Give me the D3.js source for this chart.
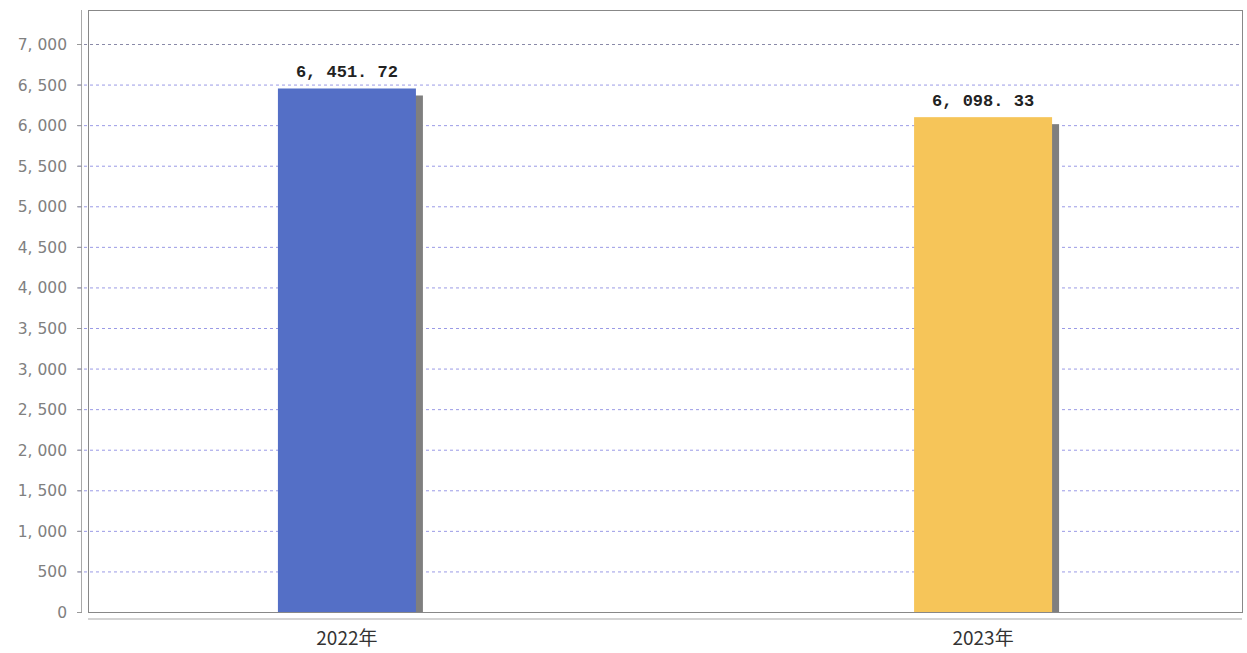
<!DOCTYPE html>
<meta charset="utf-8">
<title>Bar Chart</title>
<script src="https://cdn.jsdelivr.net/npm/d3@7/dist/d3.min.js"></script>
<style>
  body { margin: 0; background: #fff; }
</style>
<div id="chart"></div>
<script>
  // data
  var years = ["2022年", "2023年"];
  var values = [6451.72, 6098.33];
  var colors = ["#546fc6", "#f6c559"];
  var yTicks = [0, 500, 1000, 1500, 2000, 2500, 3000, 3500, 4000, 4500, 5000, 5500, 6000, 6500, 7000];

  var width = 1247, height = 653;
  var box = { left: 88, top: 10, right: 1242, bottom: 612 };

  var svg = d3.select("#chart").append("svg")
    .attr("width", width)
    .attr("height", height);

  var x = d3.scalePoint()
    .domain(years)
    .range([box.left, box.right])
    .padding(0.407);

  var y = d3.scaleLinear()
    .domain([0, 7000])
    .range([box.bottom, 44]);

  // format like "6, 451. 72"
  function fmt(v, dec) {
    var s = d3.format(dec ? ",.2f" : ",")(v);
    return s.replace(/,/g, ", ").replace(/\./g, ". ");
  }

  // grid lines
  svg.append("g")
    .selectAll("line")
    .data(yTicks.filter(function (d) { return d > 0; }))
    .enter().append("line")
    .attr("x1", 78)
    .attr("x2", box.right)
    .attr("y1", function (d) { return y(d) + 0.5; })
    .attr("y2", function (d) { return y(d) + 0.5; })
    .attr("stroke", function (d) { return d == 7000 ? "#8a8aa8" : "#9a9ae6"; })
    .attr("stroke-width", 1)
    .attr("stroke-dasharray", "3,3");

  // y axis line + ticks
  svg.append("line")
    .attr("x1", 81.5).attr("x2", 81.5)
    .attr("y1", box.top).attr("y2", box.bottom)
    .attr("stroke", "#aaa");

  svg.append("g")
    .selectAll("line")
    .data(yTicks)
    .enter().append("line")
    .attr("x1", 77).attr("x2", 82)
    .attr("y1", function (d) { return y(d) + 0.5; })
    .attr("y2", function (d) { return y(d) + 0.5; })
    .attr("stroke", "#999");

  svg.append("g")
    .selectAll("text")
    .data(yTicks)
    .enter().append("text")
    .attr("x", 67)
    .attr("y", function (d) { return y(d) + 6; })
    .attr("text-anchor", "end")
    .style("font-family", "'DejaVu Sans', sans-serif")
    .style("font-size", "15.5px")
    .style("fill", "#808080")
    .text(function (d) { return fmt(d, false); });

  // shadows
  var bw = 138;
  svg.append("g")
    .selectAll("rect")
    .data(values)
    .enter().append("rect")
    .attr("x", function (d, i) { return x(years[i]) - bw / 2 + 7; })
    .attr("y", function (d) { return y(d) + 7; })
    .attr("width", bw)
    .attr("height", function (d) { return box.bottom - y(d) - 7; })
    .attr("fill", "#7f7f7f");

  // bars
  svg.append("g")
    .selectAll("rect")
    .data(values)
    .enter().append("rect")
    .attr("x", function (d, i) { return x(years[i]) - bw / 2; })
    .attr("y", function (d) { return y(d); })
    .attr("width", bw)
    .attr("height", function (d) { return box.bottom - y(d); })
    .attr("fill", function (d, i) { return colors[i]; });

  // value labels
  svg.append("g")
    .selectAll("text")
    .data(values)
    .enter().append("text")
    .attr("x", function (d, i) { return x(years[i]); })
    .attr("y", function (d) { return y(d) - 11; })
    .attr("text-anchor", "middle")
    .style("font-family", "'Liberation Mono', monospace")
    .style("font-weight", "bold")
    .style("font-size", "17px")
    .style("fill", "#222")
    .text(function (d) { return fmt(d, true); });

  // plot border
  svg.append("rect")
    .attr("x", box.left + 0.5)
    .attr("y", box.top + 0.5)
    .attr("width", box.right - box.left)
    .attr("height", box.bottom - box.top)
    .attr("fill", "none")
    .attr("stroke", "#888");

  // x axis
  svg.append("line")
    .attr("x1", box.left).attr("x2", box.right)
    .attr("y1", 619).attr("y2", 619)
    .attr("stroke", "#d4d4d4")
    .attr("stroke-width", 2);

  svg.append("g")
    .selectAll("text")
    .data(years)
    .enter().append("text")
    .attr("x", function (d) { return x(d); })
    .attr("y", 645)
    .attr("text-anchor", "middle")
    .style("font-family", "'Noto Sans CJK SC', sans-serif")
    .style("font-size", "19px")
    .style("fill", "#333")
    .text(function (d) { return d; });
</script>
